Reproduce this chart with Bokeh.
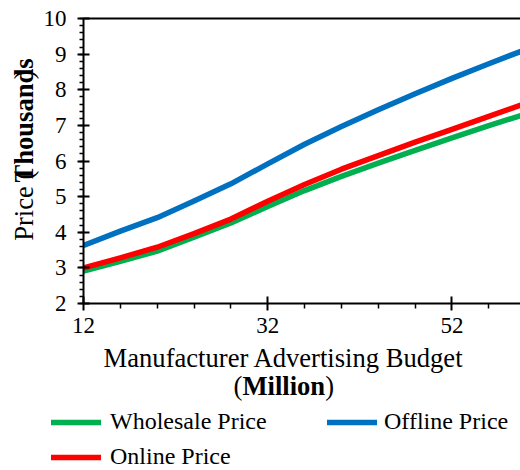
import math
from bokeh.plotting import figure
from bokeh.layouts import column, row
from bokeh.models import (Legend, LegendItem, FixedTicker, SingleIntervalTicker,
                          Range1d, LinearAxis)
from bokeh.core.properties import value
from bokeh.embed import file_html
from bokeh.resources import INLINE

# ---- data ----
budget = [12, 16, 20, 24, 28, 32, 36, 40, 44, 48, 52, 56, 60]
wholesale = [2.91, 3.18, 3.47, 3.86, 4.26, 4.72, 5.17, 5.57, 5.94, 6.30, 6.65, 6.99, 7.32]
offline = [3.63, 4.03, 4.41, 4.88, 5.36, 5.92, 6.47, 6.97, 7.44, 7.89, 8.32, 8.73, 9.13]
online = [3.00, 3.28, 3.58, 3.96, 4.37, 4.87, 5.34, 5.77, 6.15, 6.53, 6.89, 7.25, 7.62]
x_ticks = [12, 32, 52]
x_minor = [16, 20, 24, 28, 36, 40, 44, 48, 56]
series_names = ["Wholesale Price", "Offline Price", "Online Price"]
x_title = "Manufacturer Advertising Budget"
x_unit = "Million"
y_title = "Price"
y_unit = "Thousands"

FONT = "Liberation Serif"
GREEN, BLUE, RED = "#00B050", "#0070C0", "#FF0000"
TITLE_SIZE = "26.6px"
LW = 5.5

W_YT = 40
H_MAIN = 343
H_BOTTOM = 470 - H_MAIN

# ---------------- main chart ----------------
p = figure(width=520 - W_YT, height=H_MAIN, output_backend="svg", toolbar_location=None,
           x_range=Range1d(12, 59.44), y_range=Range1d(2, 10),
           min_border_left=80 - W_YT, min_border_right=0, min_border_top=18,
           min_border_bottom=H_MAIN - 303)
p.outline_line_color = None
p.xgrid.visible = False
p.ygrid.visible = False

xa = p.xaxis[0]
xa.ticker = FixedTicker(ticks=x_ticks, minor_ticks=x_minor)
ya = p.yaxis[0]
ya.ticker = SingleIntervalTicker(interval=1, num_minor_ticks=5)
for ax in (xa, ya):
    ax.axis_line_width = 2
    ax.axis_line_color = "black"
    ax.major_tick_line_width = 2
    ax.major_tick_line_color = "black"
    ax.minor_tick_line_width = 1.5
    ax.minor_tick_line_color = "black"
    ax.major_tick_in = 7
    ax.major_tick_out = 7
    ax.minor_tick_in = 0
    ax.minor_tick_out = 5
    ax.major_label_text_font = FONT
    ax.major_label_text_font_size = "23px"
    ax.major_label_text_color = "black"
ya.minor_tick_out = 4
ya.major_tick_out = 6
ya.major_tick_in = 6
xa.major_label_standoff = 7
ya.major_label_standoff = 11

top = LinearAxis(ticker=FixedTicker(ticks=[]), axis_line_width=2, axis_line_color="black",
                 major_tick_line_color=None, minor_tick_line_color=None,
                 major_label_text_font_size="0px", major_label_standoff=0)
p.add_layout(top, "above")

p.line(budget, wholesale, line_color=GREEN, line_width=LW, line_join="round")
p.line(budget, offline, line_color=BLUE, line_width=LW, line_join="round")
p.line(budget, online, line_color=RED, line_width=LW, line_join="round")

# ---------------- y title panel ----------------
fy = figure(width=W_YT, height=H_MAIN, output_backend="svg", toolbar_location=None,
            x_range=Range1d(0, W_YT), y_range=Range1d(0, H_MAIN),
            x_axis_type=None, y_axis_type=None, min_border=0)
fy.outline_line_color = None
fy.xgrid.visible = False
fy.ygrid.visible = False
YX = 23.5
fy.text(x=[YX, YX], y=[H_MAIN - 267.6, H_MAIN - 73.2], text=[y_title + " (", ")"],
        angle=math.pi / 2, text_font=value(FONT), text_font_size=TITLE_SIZE,
        text_color="black", text_align="left", text_baseline="alphabetic")
fy.text(x=[YX], y=[H_MAIN - 197.4], text=[y_unit], angle=math.pi / 2,
        text_font=value(FONT), text_font_size=TITLE_SIZE, text_font_style="bold",
        text_color="black", text_align="left", text_baseline="alphabetic")

# ---------------- bottom panel: x title + legend ----------------
fb = figure(width=520, height=H_BOTTOM, output_backend="svg", toolbar_location=None,
            x_range=Range1d(0, 520), y_range=Range1d(H_BOTTOM, 0),
            x_axis_type=None, y_axis_type=None, min_border=0)
fb.outline_line_color = None
fb.xgrid.visible = False
fb.ygrid.visible = False
fb.text(x=[283.3], y=[14], text=[x_title], text_font=value(FONT),
        text_font_size=TITLE_SIZE, text_color="black", text_align="center",
        text_baseline="alphabetic")
fb.text(x=[233.05, 324.7], y=[42, 42], text=["(", ")"], text_font=value(FONT),
        text_font_size=TITLE_SIZE, text_color="black", text_align="left",
        text_baseline="alphabetic")
fb.text(x=[241.9], y=[42], text=[x_unit], text_font=value(FONT),
        text_font_size=TITLE_SIZE, text_font_style="bold", text_color="black",
        text_align="left", text_baseline="alphabetic")

# legend key renderers (hidden; they only carry the line style for the legend)
d_w = fb.line(budget, wholesale, line_color=GREEN, line_width=LW, line_cap="round", visible=False)
d_off = fb.line(budget, offline, line_color=BLUE, line_width=LW, line_cap="round", visible=False)
d_on = fb.line(budget, online, line_color=RED, line_width=LW, line_cap="round", visible=False)

def make_legend(items, loc, standoff):
    lg = Legend(items=items, location=loc, orientation="vertical",
                label_text_font=FONT, label_text_font_size="24px",
                label_text_color="black", glyph_width=50, glyph_height=20,
                label_standoff=standoff, spacing=8, padding=0, margin=0,
                border_line_color=None, background_fill_alpha=0,
                click_policy="none")
    fb.add_layout(lg, "center")

make_legend([LegendItem(label=series_names[0], renderers=[d_w]),
             LegendItem(label=series_names[2], renderers=[d_on])], (51, 0), 9)
make_legend([LegendItem(label=series_names[1], renderers=[d_off])], (327, 35), 7)

layout = column(row(fy, p), fb)
open("out.html", "w").write(file_html(layout, INLINE))
